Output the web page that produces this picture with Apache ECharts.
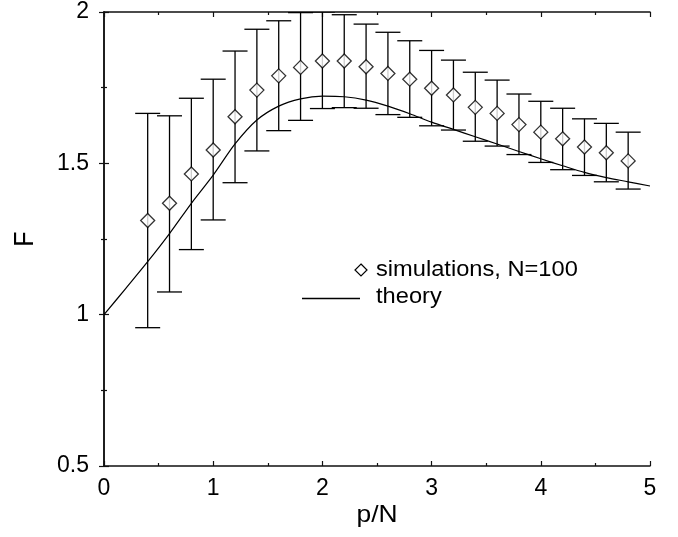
<!DOCTYPE html>
<html>
<head>
<meta charset="utf-8">
<script src="https://cdn.jsdelivr.net/npm/echarts@6/dist/echarts.min.js"></script>
<style>html,body{margin:0;padding:0;background:#fff}#c{width:678px;height:537px}</style>
</head>
<body>
<div id="c"></div>
<script>
var simX = [0.4,0.6,0.8,1.0,1.2,1.4,1.6,1.8,2.0,2.2,2.4,2.6,2.8,3.0,3.2,3.4,3.6,3.8,4.0,4.2,4.4,4.6,4.8];
var simY = [1.311,1.368,1.465,1.544,1.654,1.742,1.789,1.817,1.838,1.838,1.819,1.797,1.778,1.748,1.726,1.685,1.665,1.628,1.603,1.581,1.554,1.535,1.508];
var simUpper = [1.665,1.657,1.715,1.778,1.871,1.943,1.971,1.998,2.0,1.991,1.960,1.933,1.905,1.873,1.841,1.801,1.775,1.729,1.705,1.682,1.647,1.632,1.603];
var simLower = [0.957,1.075,1.215,1.313,1.436,1.541,1.608,1.642,1.681,1.684,1.682,1.661,1.652,1.624,1.610,1.573,1.557,1.529,1.503,1.479,1.460,1.439,1.415];
var theoryX = [0,0.2,0.4,0.6,0.8,1.0,1.2,1.4,1.6,1.8,2.0,2.2,2.4,2.6,2.8,3.0,3.2,3.4,3.6,3.8,4.0,4.2,4.4,4.6,4.8,5.0];
var theoryY = [1.0,1.087,1.175,1.268,1.368,1.461,1.564,1.643,1.689,1.713,1.722,1.720,1.709,1.689,1.664,1.636,1.612,1.588,1.564,1.539,1.515,1.492,1.470,1.453,1.439,1.425];
var xTicks = [0,1,2,3,4,5];
var yTicks = [0.5,1,1.5,2];

var FONT = '"Liberation Sans", Arial, Helvetica, sans-serif';
var DIAMOND = 'path://M0,-1L1,0L0,1L-1,0Z';

var chart = echarts.init(document.getElementById('c'), null, {renderer: 'canvas'});

function axisCommon(showLabel) {
  return {
    axisLine: {show: true, lineStyle: {color: '#111', width: 1.5}},
    axisTick: {show: true, inside: true, length: 5, lineStyle: {color: '#111', width: 1.2}},
    minorTick: {show: true, splitNumber: 2, length: 3, lineStyle: {color: '#111', width: 1.2}},
    splitLine: {show: false},
    axisLabel: {show: showLabel, color: '#000', fontFamily: FONT, fontSize: 23}
  };
}

var errData = simX.map(function (x, i) { return [x, simLower[i], simUpper[i]]; });
var simData = simX.map(function (x, i) { return [x, simY[i]]; });
var theoryData = theoryX.map(function (x, i) { return [x, theoryY[i]]; });

var option = {
  animation: false,
  backgroundColor: '#fff',
  grid: {left: 104, top: 12, right: 28, bottom: 71, containLabel: false},
  xAxis: [
    Object.assign({type: 'value', min: 0, max: 5, interval: 1, position: 'bottom'}, axisCommon(true),
      {axisLabel: {show: true, color: '#000', fontFamily: FONT, fontSize: 23, margin: 11,
        formatter: function (v) { return xTicks.indexOf(v) >= 0 ? String(v) : ''; }}}),
    Object.assign({type: 'value', min: 0, max: 5, interval: 1, position: 'top'}, axisCommon(false))
  ],
  yAxis: [
    Object.assign({type: 'value', min: 0.5, max: 2, interval: 0.5, position: 'left'}, axisCommon(true),
      {axisLabel: {show: true, color: '#000', fontFamily: FONT, fontSize: 23, margin: 15,
        formatter: function (v) { return yTicks.indexOf(v) >= 0 ? String(v) : ''; }}}),
    Object.assign({type: 'value', min: 0.5, max: 2, interval: 0.5, position: 'right'}, axisCommon(false))
  ],
  series: [
    {
      type: 'line', name: 'theory', data: theoryData, smooth: 0.3, showSymbol: false,
      lineStyle: {color: '#000', width: 1.2}, z: 2, clip: true
    },
    {
      type: 'custom', name: 'errors', data: errData, z: 3, clip: true,
      renderItem: function (params, api) {
        var x = api.value(0);
        var lo = api.coord([x, api.value(1)]);
        var hi = api.coord([x, api.value(2)]);
        var hw = 12.5;
        var style = {stroke: '#000', lineWidth: 1.3};
        return {
          type: 'group',
          children: [
            {type: 'line', shape: {x1: lo[0], y1: lo[1], x2: hi[0], y2: hi[1]}, style: style},
            {type: 'line', shape: {x1: lo[0] - hw, y1: lo[1], x2: lo[0] + hw, y2: lo[1]}, style: style},
            {type: 'line', shape: {x1: hi[0] - hw, y1: hi[1], x2: hi[0] + hw, y2: hi[1]}, style: style}
          ]
        };
      }
    },
    {
      type: 'scatter', name: 'simulations, N=100', data: simData, symbol: DIAMOND, symbolSize: 14, z: 4,
      itemStyle: {color: '#fff', borderColor: '#000', borderWidth: 1.3}
    }
  ],
  graphic: [
    {type: 'polygon', shape: {points: [[361, 264], [367, 270], [361, 276], [355, 270]]},
      style: {fill: '#fff', stroke: '#000', lineWidth: 1.2}},
    {type: 'text', x: 376, y: 270, scaleX: 1.1,
      style: {text: 'simulations, N=100', font: '21.5px ' + FONT, fill: '#000', textVerticalAlign: 'middle', verticalAlign: 'middle'}},
    {type: 'line', shape: {x1: 302, y1: 298.5, x2: 360, y2: 298.5}, style: {stroke: '#000', lineWidth: 1.3}},
    {type: 'text', x: 376, y: 297, scaleX: 1.1,
      style: {text: 'theory', font: '21.5px ' + FONT, fill: '#000', textVerticalAlign: 'middle', verticalAlign: 'middle'}},
    {type: 'text', x: 377, y: 515, scaleX: 1.1,
      style: {text: 'p/N', font: '24px ' + FONT, fill: '#000', textAlign: 'center', align: 'center', textVerticalAlign: 'middle', verticalAlign: 'middle'}},
    {type: 'text', x: 25, y: 239, rotation: Math.PI / 2, scaleY: 1.1,
      style: {text: 'F', font: '25px ' + FONT, fill: '#000', textAlign: 'center', align: 'center', textVerticalAlign: 'middle', verticalAlign: 'middle'}}
  ]
};
chart.setOption(option);
</script>
</body>
</html>
